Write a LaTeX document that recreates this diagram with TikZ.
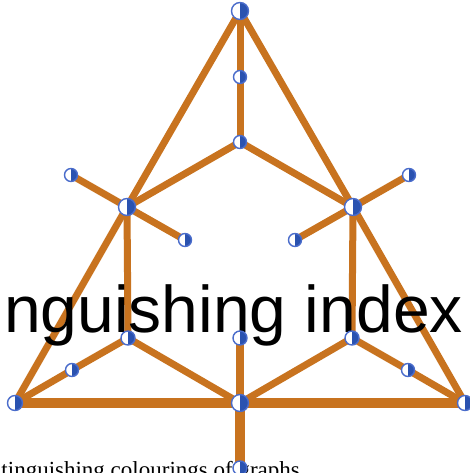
\documentclass[tikz,border=0pt]{standalone}
\usepackage{fontspec}
\setmainfont{Liberation Serif}
\newfontfamily\bigsans{Liberation Sans}
\definecolor{edgeor}{HTML}{C8731F}
\definecolor{vblue}{HTML}{2A52B0}
\definecolor{vline}{HTML}{4A6CCB}
\tikzset{
  vtx/.style={circle, minimum size=#1, inner sep=0pt, draw=vline, line width=1.4pt, fill=white,
    path picture={\fill[vblue] (path picture bounding box.north) rectangle (path picture bounding box.south east);}},
  vtx/.default=13pt,
  hub/.style={vtx=17pt},
  edg/.style={draw=edgeor, line width=7pt},
  thick edg/.style={draw=edgeor, line width=10pt}
}
\begin{document}
\begin{tikzpicture}[x=1pt,y=-1pt]
\useasboundingbox (0,0) rectangle (470,473);
% coordinates
\coordinate (pT) at (240,11);
\coordinate (pA) at (240,77);
\coordinate (pB) at (240,142);
\coordinate (pL) at (127,207);
\coordinate (pR) at (353,207);
\coordinate (pLa) at (71,175);
\coordinate (pLb) at (185,240);
\coordinate (pRa) at (409,175);
\coordinate (pRb) at (295,240);
\coordinate (pLM) at (128,338);
\coordinate (pRM) at (352,338);
\coordinate (pL2) at (72,370);
\coordinate (pR2) at (408,370);
\coordinate (pBL) at (15,403);
\coordinate (pBR) at (465,403);
\coordinate (pBC) at (240,403);
\coordinate (pCM) at (240,338);
\coordinate (pBB) at (240,468);
% edges
\draw[edg] (pT) -- (pL) -- (pBL);
\draw[edg] (pT) -- (pR) -- (pBR);
\draw[edg] (pT) -- (pA) -- (pB);
\draw[edg] (pL) -- (pB) -- (pR);
\draw[edg] (pLa) -- (pL) -- (pLb);
\draw[edg] (pRa) -- (pR) -- (pRb);
\draw[edg] (pL) -- (pLM);
\draw[edg] (pR) -- (pRM);
\draw[edg] (pBL) -- (pL2) -- (pLM) -- (pBC);
\draw[edg] (pBR) -- (pR2) -- (pRM) -- (pBC);
\draw[edg, line width=8.5pt] (pCM) -- (pBC);
\draw[thick edg] (pBC) -- (pBB);
\draw[thick edg] (pBL) -- (pBC) -- (pBR);
% big text
\node[anchor=base west, inner sep=0pt, font=\bigsans\fontsize{66}{70}\selectfont] (bigtext) at (4,332) {nguishing index};
% vertices
\node[hub] (T) at (pT) {};
\node[vtx] (A) at (pA) {};
\node[vtx] (B) at (pB) {};
\node[hub] (L) at (pL) {};
\node[hub] (R) at (pR) {};
\node[vtx] (La) at (pLa) {};
\node[vtx] (Lb) at (pLb) {};
\node[vtx] (Ra) at (pRa) {};
\node[vtx] (Rb) at (pRb) {};
\node[vtx=14pt] (LM) at (pLM) {};
\node[vtx=14pt] (RM) at (pRM) {};
\node[vtx] (L2) at (pL2) {};
\node[vtx] (R2) at (pR2) {};
\node[vtx=15pt] (BL) at (pBL) {};
\node[vtx=15pt] (BR) at (pBR) {};
\node[hub] (BC) at (pBC) {};
\node[vtx=14pt] (CM) at (pCM) {};
% bottom text
\node[anchor=base east, inner sep=0pt, font=\fontsize{23}{26}\selectfont] (subtext) at (300,477.5) {tinguishing colourings of graphs};
\node[vtx=14pt] (BB) at (pBB) {};
\end{tikzpicture}
\end{document}
